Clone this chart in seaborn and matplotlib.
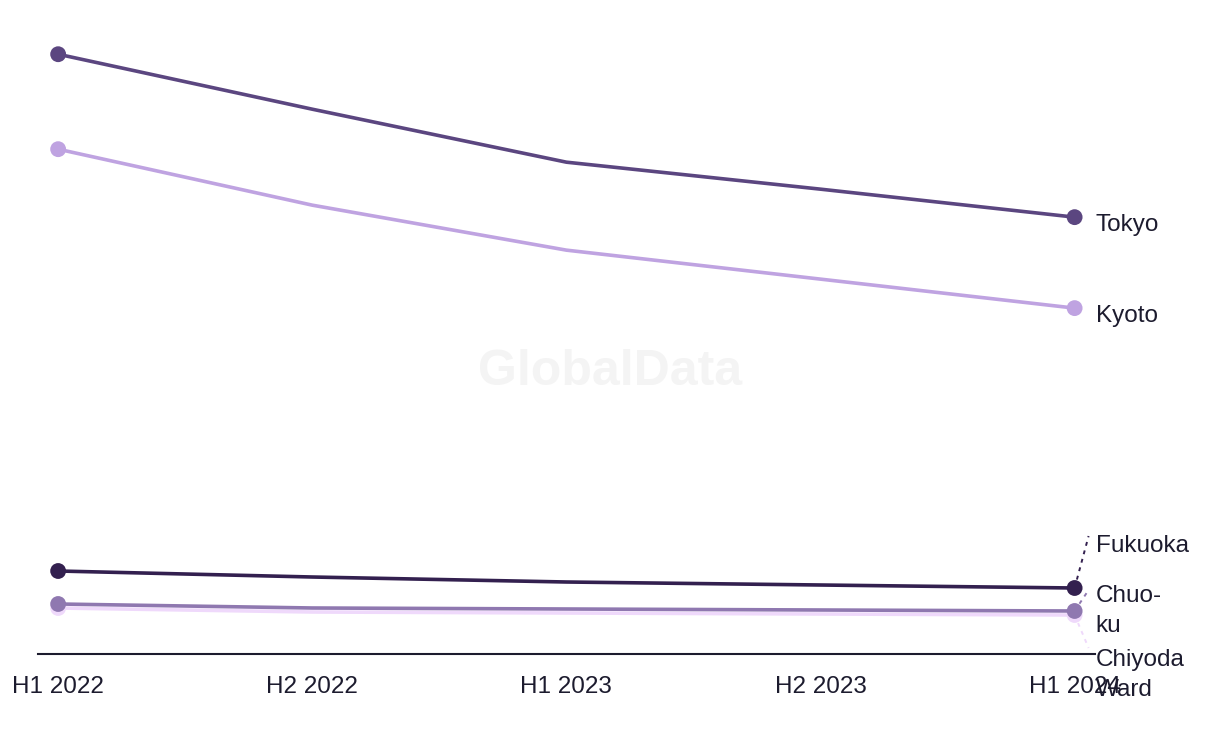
import matplotlib
matplotlib.use("Agg")
import matplotlib.pyplot as plt
import seaborn as sns
import pandas as pd

periods = ["H1 2022", "H2 2022", "H1 2023", "H2 2023", "H1 2024"]
tokyo = [600, 545, 492, 465, 437]
kyoto = [505, 449, 404, 375, 346]
fukuoka = [83, 77, 72, 69, 66]
chuo_ku = [50, 46, 45, 44, 43]
chiyoda = [46, 42, 41, 40, 39]

series_names = ["Chiyoda Ward", "Chuo-ku", "Fukuoka", "Kyoto", "Tokyo"]
series_values = [chiyoda, chuo_ku, fukuoka, kyoto, tokyo]
label_texts = {"Tokyo": "Tokyo", "Kyoto": "Kyoto", "Fukuoka": "Fukuoka",
               "Chuo-ku": "Chuo-\nku", "Chiyoda Ward": "Chiyoda\nWard"}
colors = {"Tokyo": "#5b4680", "Kyoto": "#bfa3e1", "Fukuoka": "#33204f",
          "Chuo-ku": "#8f78b0", "Chiyoda Ward": "#efd9fb"}

rows = []
for name, vals in zip(series_names, series_values):
    for i, (p, v) in enumerate(zip(periods, vals)):
        rows.append({"series": name, "x": i, "period": p, "value": v})
df = pd.DataFrame(rows)

sns.set_theme(style="white")
plt.rcParams["font.family"] = ["Liberation Sans", "DejaVu Sans"]
text_color = "#1c1b2e"
fs = 17.5

fig = plt.figure(figsize=(12.2, 7.44), dpi=100)
ax = fig.add_axes([0.031, 0.121, 0.8665, 0.833])

for name in series_names:
    sub = df[df["series"] == name]
    sns.lineplot(data=sub, x="x", y="value", color=colors[name], lw=2.6, ax=ax,
                 legend=False, zorder=3)
    ends = sub[sub["x"].isin([0, len(periods) - 1])]
    sns.scatterplot(data=ends, x="x", y="value", color=colors[name], s=130,
                    edgecolor="none", ax=ax, legend=False, zorder=4)

ax.set_xlim(-0.08, 4.08)
ax.set_ylim(0, 620)
ax.set_xticks(range(len(periods)))
ax.set_xticklabels(periods, fontsize=fs, color=text_color)
ax.tick_params(axis="x", length=0, pad=16)
ax.set_yticks([])
ax.set_xlabel("")
ax.set_ylabel("")
for s in ["left", "right", "top"]:
    ax.spines[s].set_visible(False)
ax.spines["bottom"].set_color(text_color)
ax.spines["bottom"].set_linewidth(1.5)

fig.text(0.5, 0.5, "GlobalData", ha="center", va="center",
         fontsize=36, fontweight="bold", color="#f4f4f4", zorder=0)

last = len(periods) - 1
lx = 4.083
label_y = {"Tokyo": tokyo[-1] - 8, "Kyoto": kyoto[-1] - 8, "Fukuoka": 108,
           "Chuo-ku": 43, "Chiyoda Ward": -21}
leader = {"Fukuoka": 118, "Chuo-ku": 64, "Chiyoda Ward": 6}
for name in series_names:
    y = label_y[name]
    ax.text(lx, y, label_texts[name], ha="left", va="center", fontsize=fs,
            color=text_color, linespacing=1.5, clip_on=False)
    if name in leader:
        endv = series_values[series_names.index(name)][-1]
        ax.plot([last, 4.055], [endv, leader[name]], ls=(0, (2, 2.5)), lw=1.4,
                color=colors[name], clip_on=False, zorder=2)

fig.savefig("out.png", dpi=100, facecolor="white")
